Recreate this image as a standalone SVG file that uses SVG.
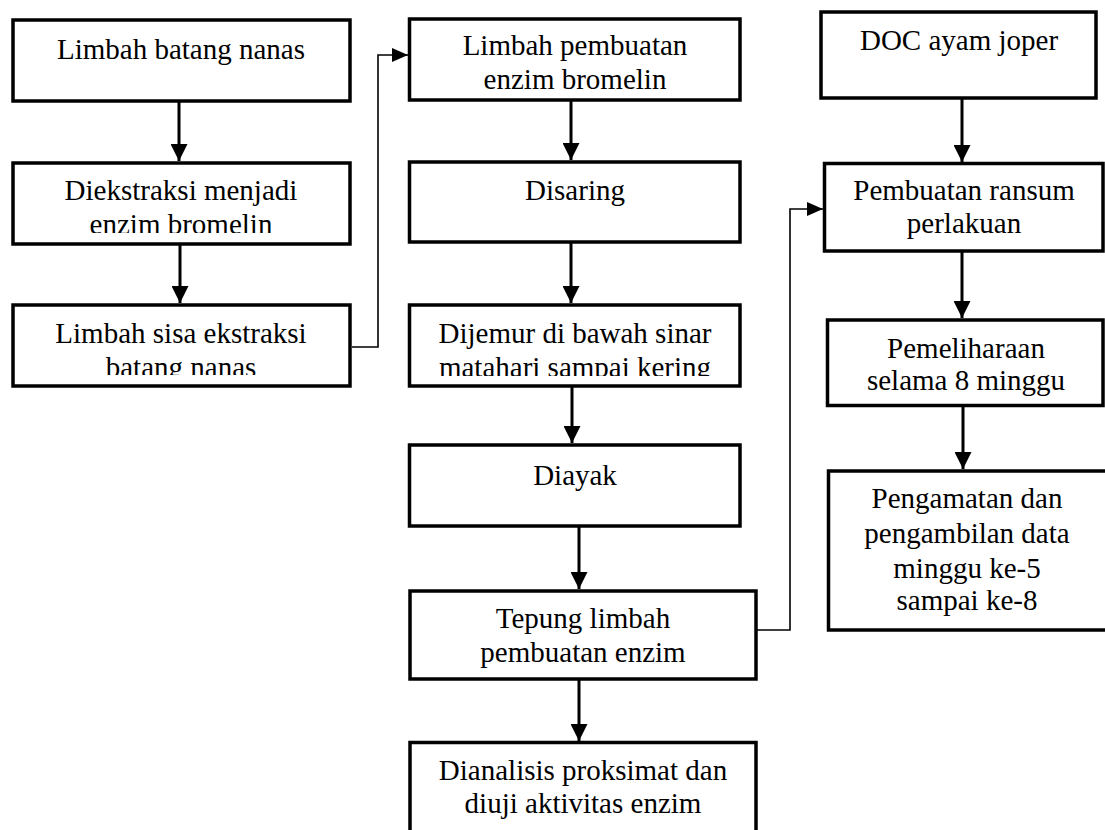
<svg xmlns="http://www.w3.org/2000/svg" width="1105" height="830" viewBox="0 0 1105 830">
<style>
.box{fill:#fff;stroke:#000;stroke-width:3.5}
.t{font-family:"Liberation Serif","Times New Roman",serif;font-size:29px;fill:#000;text-anchor:middle}
.a{fill:none;stroke:#000;stroke-width:3}
.c{fill:none;stroke:#000;stroke-width:1.6}
</style>
<defs>
<marker id="ah" markerUnits="userSpaceOnUse" markerWidth="17" markerHeight="17" refX="17" refY="8.5" orient="auto"><path d="M0,0 L17,8.5 L0,17 z" fill="#000"/></marker>
<marker id="ahs" markerUnits="userSpaceOnUse" markerWidth="16" markerHeight="14" refX="16" refY="7" orient="auto"><path d="M0,0 L16,7 L0,14 z" fill="#000"/></marker>
<clipPath id="cl2"><rect x="0" y="150" width="400" height="83"/></clipPath>
<clipPath id="cl3"><rect x="0" y="300" width="400" height="75"/></clipPath>
<clipPath id="cl6"><rect x="400" y="300" width="360" height="76"/></clipPath>
</defs>
<g id="connectors">
<line class="a" x1="179" y1="102" x2="179" y2="161" marker-end="url(#ah)"/>
<line class="a" x1="180" y1="245" x2="180" y2="303" marker-end="url(#ah)"/>
<line class="a" x1="571" y1="101" x2="571" y2="160" marker-end="url(#ah)"/>
<line class="a" x1="571" y1="243" x2="571" y2="303" marker-end="url(#ah)"/>
<line class="a" x1="572" y1="387" x2="572" y2="443" marker-end="url(#ah)"/>
<line class="a" x1="579" y1="527" x2="579" y2="589" marker-end="url(#ah)"/>
<line class="a" x1="579" y1="680" x2="579" y2="741" marker-end="url(#ah)"/>
<line class="a" x1="962" y1="99" x2="962" y2="162" marker-end="url(#ah)"/>
<line class="a" x1="962" y1="252" x2="962" y2="318" marker-end="url(#ah)"/>
<line class="a" x1="963" y1="406" x2="963" y2="469" marker-end="url(#ah)"/>
<polyline class="c" points="352,347 378,347 378,55 408,55" marker-end="url(#ahs)"/>
<polyline class="c" points="757,630 790,630 790,209 823,209" marker-end="url(#ahs)"/>
</g>
<g id="n1"><rect class="box" x="13" y="20" width="337" height="81"/><text class="t" x="181" y="59">Limbah batang nanas</text></g>
<g id="n2"><rect class="box" x="13" y="163" width="337" height="81"/><g clip-path="url(#cl2)"><text class="t" x="181" y="200">Diekstraksi menjadi</text><text class="t" x="181" y="234">enzim bromelin</text></g></g>
<g id="n3"><rect class="box" x="13" y="305" width="337" height="81"/><g clip-path="url(#cl3)"><text class="t" x="181" y="343">Limbah sisa ekstraksi</text><text class="t" x="181" y="377">batang nanas</text></g></g>
<g id="n4"><rect class="box" x="409.5" y="19" width="330.5" height="81"/><text class="t" x="575" y="55">Limbah pembuatan</text><text class="t" x="575" y="89">enzim bromelin</text></g>
<g id="n5"><rect class="box" x="409.5" y="162" width="330.5" height="80"/><text class="t" x="575" y="200">Disaring</text></g>
<g id="n6"><rect class="box" x="409.5" y="305" width="330.5" height="81"/><g clip-path="url(#cl6)"><text class="t" x="575" y="343">Dijemur di bawah sinar</text><text class="t" x="575" y="377">matahari sampai kering</text></g></g>
<g id="n7"><rect class="box" x="409.5" y="445" width="330.5" height="81"/><text class="t" x="575" y="485">Diayak</text></g>
<g id="n8"><rect class="box" x="410" y="591" width="346" height="88"/><text class="t" x="583" y="628">Tepung limbah</text><text class="t" x="583" y="662">pembuatan enzim</text></g>
<g id="n13"><rect class="box" x="410" y="742.5" width="346" height="100"/><text class="t" x="583" y="780">Dianalisis proksimat dan</text><text class="t" x="583" y="813">diuji aktivitas enzim</text></g>
<g id="n9"><rect class="box" x="821" y="12" width="275" height="86"/><text class="t" x="959" y="50">DOC ayam joper</text></g>
<g id="n10"><rect class="box" x="824.5" y="163.5" width="278.5" height="87.5"/><text class="t" x="964" y="200">Pembuatan ransum</text><text class="t" x="964" y="233">perlakuan</text></g>
<g id="n11"><rect class="box" x="827.5" y="320" width="275.5" height="85.5"/><text class="t" x="966" y="358">Pemeliharaan</text><text class="t" x="966" y="390">selama 8 minggu</text></g>
<g id="n12"><rect class="box" x="828.5" y="471" width="290" height="159"/><text class="t" x="967" y="508">Pengamatan dan</text><text class="t" x="967" y="543">pengambilan data</text><text class="t" x="967" y="578">minggu ke-5</text><text class="t" x="967" y="610">sampai ke-8</text></g>
</svg>
